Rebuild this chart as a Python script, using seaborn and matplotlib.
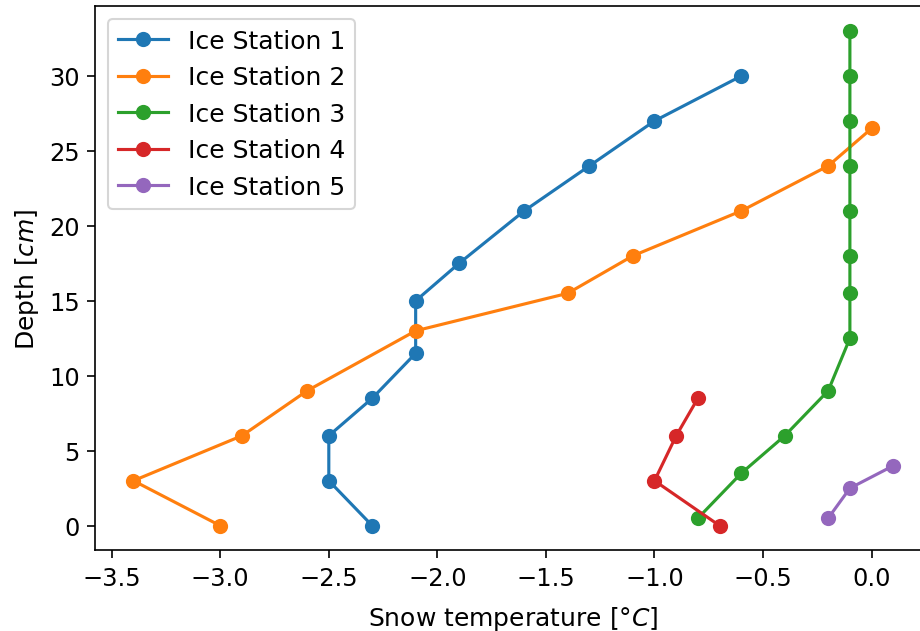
import matplotlib
matplotlib.use("Agg")
import matplotlib.pyplot as plt
import seaborn as sns

# Snow temperature profiles (temperature in °C, depth in cm) per ice station
station_names = ["Ice Station 1", "Ice Station 2", "Ice Station 3",
                 "Ice Station 4", "Ice Station 5"]

temp_st1 = [-2.3, -2.5, -2.5, -2.3, -2.1, -2.1, -1.9, -1.6, -1.3, -1.0, -0.6]
depth_st1 = [0, 3, 6, 8.5, 11.5, 15, 17.5, 21, 24, 27, 30]

temp_st2 = [-3.0, -3.4, -2.9, -2.6, -2.1, -1.4, -1.1, -0.6, -0.2, 0.0]
depth_st2 = [0, 3, 6, 9, 13, 15.5, 18, 21, 24, 26.5]

temp_st3 = [-0.8, -0.6, -0.4, -0.2, -0.1, -0.1, -0.1, -0.1, -0.1, -0.1, -0.1, -0.1]
depth_st3 = [0.5, 3.5, 6, 9, 12.5, 15.5, 18, 21, 24, 27, 30, 33]

temp_st4 = [-0.7, -1.0, -0.9, -0.8]
depth_st4 = [0, 3, 6, 8.5]

temp_st5 = [-0.2, -0.1, 0.1]
depth_st5 = [0.5, 2.5, 4]

temps = [temp_st1, temp_st2, temp_st3, temp_st4, temp_st5]
depths = [depth_st1, depth_st2, depth_st3, depth_st4, depth_st5]

DPI = 150
fig = plt.figure(figsize=(920 / DPI, 632 / DPI), dpi=DPI)
ax = fig.add_axes([0.1037, 0.1275, 0.9086, 0.861])

colors = sns.color_palette("tab10", len(station_names))
for name, t, d, c in zip(station_names, temps, depths, colors):
    sns.lineplot(x=t, y=d, ax=ax, sort=False, estimator=None, color=c,
                 marker="o", markersize=6.3, markeredgecolor=c,
                 markeredgewidth=1.0, linewidth=1.5, label=name, legend=False)

ax.tick_params(labelsize=11.6, length=4)
ax.set_xlabel("Snow temperature [°$C$]", fontsize=12, labelpad=6.5)
ax.set_ylabel("Depth [$cm$]", fontsize=12)
ax.legend(loc="upper left", fontsize=12)

fig.savefig("out.png", dpi=DPI)
